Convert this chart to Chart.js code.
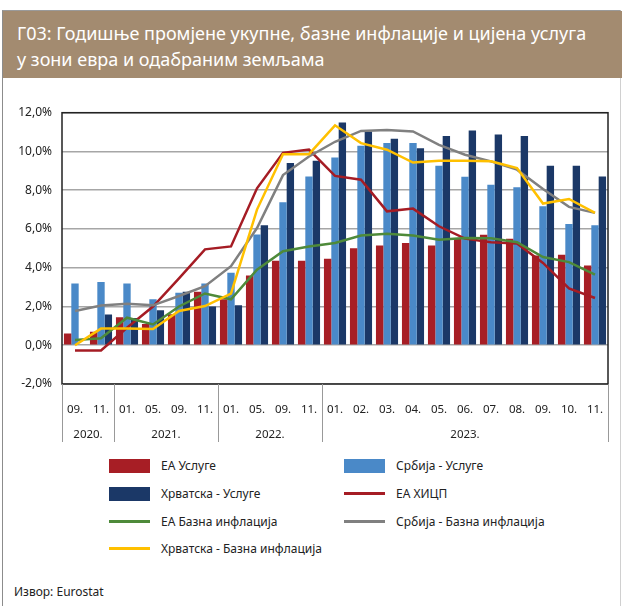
<!DOCTYPE html>
<html lang="sr">
<head>
    <meta charset="UTF-8">
    <title>Г03</title>
    <script src="https://cdn.jsdelivr.net/npm/chart.js"></script>
    <style>
        body {
            margin: 0;
            padding: 0;
            background: #fff;
            font-family: "Noto Sans", sans-serif;
        }
        #page {
            position: relative;
            width: 622px;
            height: 606px;
            overflow: hidden;
        }
        #frame {
            position: absolute;
            left: 2px;
            top: 10px;
            width: 617px;
            height: 600px;
            border-left: 1px solid #8c8c8c;
            border-top: 1px solid #9a9a9a;
            border-right: 1px solid #d0d0d0;
        }
        #title {
            position: absolute;
            left: 3px;
            top: 11px;
            width: 619px;
            height: 67px;
            background: #a38b70;
            color: #fff;
            font-size: 18px;
            line-height: 26px;
            padding: 0 0 0 14px;
            box-sizing: border-box;
        }
        #title div { white-space: nowrap; }
        #chartBox {
            position: absolute;
            left: 0;
            top: 80px;
            width: 622px;
            height: 370px;
        }
        #legend {
            position: absolute;
            left: 109px;
            top: 452px;
            display: grid;
            grid-template-columns: 235px 235px;
            grid-auto-rows: 27.7px;
            font-size: 12px;
            color: #222;
        }
        .item { display: flex; align-items: center; }
        .swatch { width: 41px; margin-right: 11px; }
        #source {
            position: absolute;
            left: 14px;
            top: 583px;
            font-size: 12px;
            color: #222;
        }
    </style>
</head>
<body>
<div id="page">
    <div id="frame"></div>
    <div id="title">
        <div style="margin-top:9px">Г03: Годишње промјене укупне, базне инфлације и цијена услуга</div>
        <div>у зони евра и одабраним земљама</div>
    </div>
    <div id="chartBox"><canvas id="chart" width="622" height="370"></canvas></div>
    <div id="legend"></div>
    <div id="source">Извор: Eurostat</div>
</div>
<script>
    const months = ['09.', '11.', '01.', '05.', '09.', '11.', '01.', '05.', '09.', '11.',
        '01.', '02.', '03.', '04.', '05.', '06.', '07.', '08.', '09.', '10.', '11.'];
    const years = ['2020.', '2020.', '2021.', '2021.', '2021.', '2021.', '2022.', '2022.', '2022.', '2022.',
        '2023.', '2023.', '2023.', '2023.', '2023.', '2023.', '2023.', '2023.', '2023.', '2023.', '2023.'];
    const yTicks = [-2, 0, 2, 4, 6, 8, 10, 12];

    const eaServices = [0.6, 0.7, 1.45, 1.1, 1.6, 2.76, 2.37, 3.6, 4.36, 4.36, 4.46, 5.0, 5.15, 5.28, 5.15, 5.5, 5.7, 5.5, 4.63, 4.67, 4.12];
    const srbServices = [3.19, 3.26, 3.19, 2.37, 2.71, 3.19, 3.74, 5.71, 7.38, 8.71, 9.69, 10.3, 10.43, 10.43, 9.26, 8.7, 8.28, 8.15, 7.17, 6.26, 6.19];
    const hrvServices = [0, 1.58, 1.4, 1.8, 2.76, 2.0, 2.07, 6.19, 9.4, 9.52, 11.49, 11.03, 10.65, 10.17, 10.8, 11.08, 10.87, 10.8, 9.26, 9.26, 8.71];
    const eaHicp = [-0.27, -0.27, 0.9, 2.0, 3.45, 4.95, 5.1, 8.1, 9.93, 10.1, 8.74, 8.54, 6.91, 7.05, 6.14, 5.5, 5.32, 5.25, 4.25, 2.93, 2.44];
    const eaCore = [0.27, 0.36, 1.42, 1.07, 2.0, 2.67, 2.37, 3.9, 4.85, 5.1, 5.28, 5.66, 5.75, 5.66, 5.45, 5.54, 5.52, 5.32, 4.55, 4.29, 3.65];
    const srbCore = [1.77, 2.05, 2.14, 2.06, 2.54, 3.05, 4.08, 6.05, 8.78, 9.74, 10.5, 11.06, 11.11, 11.03, 10.34, 9.83, 9.49, 9.06, 8.06, 7.14, 6.83];
    const hrvCore = [0.0, 0.86, 0.86, 0.84, 1.77, 2.02, 2.67, 7.0, 9.86, 9.86, 11.35, 10.43, 10.09, 9.43, 9.52, 9.52, 9.49, 9.14, 7.31, 7.55, 6.83];

    const fmt = v => v.toFixed(1).replace('.', ',') + '%';

    // frame round the plot, year row and its separators
    const axisExtras = {
        id: 'axisExtras',
        afterDraw(chart) {
            const ctx = chart.ctx;
            const a = chart.chartArea;
            const x = chart.scales.x;
            ctx.save();
            ctx.strokeStyle = '#222';
            ctx.lineWidth = 1.5;
            ctx.strokeRect(a.left, a.top, a.right - a.left, a.bottom - a.top);

            const edges = [x.left];
            for (let i = 1; i < years.length; i++) {
                if (years[i] !== years[i - 1]) {
                    edges.push((x.getPixelForValue(i - 1) + x.getPixelForValue(i)) / 2);
                }
            }
            edges.push(x.right);
            ctx.strokeStyle = '#999';
            ctx.lineWidth = 1;
            edges.forEach(e => {
                ctx.beginPath();
                ctx.moveTo(Math.round(e) + 0.5, a.bottom);
                ctx.lineTo(Math.round(e) + 0.5, a.bottom + 58);
                ctx.stroke();
            });

            const groups = [...new Set(years)];
            ctx.fillStyle = '#222';
            ctx.font = '11.5px "Noto Sans"';
            ctx.textAlign = 'center';
            ctx.textBaseline = 'middle';
            groups.forEach((g, k) => {
                ctx.fillText(g, (edges[k] + edges[k + 1]) / 2, a.bottom + 51);
            });
            ctx.restore();
        }
    };

    const bar = (label, data, color) => ({
        type: 'bar', label, data, backgroundColor: color, borderWidth: 0, order: 5
    });
    const line = (label, data, color, order) => ({
        type: 'line', label, data, borderColor: color, backgroundColor: color,
        borderWidth: 2.5, pointRadius: 0, tension: 0, fill: false, order
    });

    const chart = new Chart(document.getElementById('chart'), {
        data: {
            labels: months,
            datasets: [
                bar('ЕА Услуге', eaServices, '#a71e25'),
                bar('Србија - Услуге', srbServices, '#4a89c8'),
                bar('Хрватска - Услуге', hrvServices, '#1b3867'),
                line('ЕА ХИЦП', eaHicp, '#a51c24', 4),
                line('ЕА Базна инфлација', eaCore, '#4e8a3a', 3),
                line('Србија - Базна инфлација', srbCore, '#808080', 2),
                line('Хрватска - Базна инфлација', hrvCore, '#ffc000', 1)
            ]
        },
        options: {
            responsive: false,
            animation: false,
            layout: { padding: { top: 32.7, right: 14, left: 0, bottom: 0 } },
            datasets: { bar: { categoryPercentage: 0.85, barPercentage: 1.0 } },
            plugins: { legend: { display: false }, tooltip: { enabled: false } },
            scales: {
                x: {
                    grid: { display: false },
                    border: { display: false },
                    ticks: { color: '#222', font: { family: 'Noto Sans', size: 11.5 }, padding: 11, maxRotation: 0, autoSkip: false },
                    afterFit(scale) { scale.height = 66; }
                },
                y: {
                    min: -2,
                    max: 12,
                    afterBuildTicks(scale) { scale.ticks = yTicks.map(v => ({ value: v })); },
                    grid: { color: '#a6a6a6', lineWidth: 1.5, drawTicks: false },
                    border: { display: false },
                    ticks: { color: '#222', font: { family: 'Noto Sans', size: 12 }, padding: 10, callback: v => fmt(v) },
                    afterFit(scale) { scale.width = 62; }
                }
            }
        },
        plugins: [axisExtras]
    });

    // legend built from the chart's datasets, two per row
    const legend = document.getElementById('legend');
    chart.data.datasets.forEach(ds => {
        const item = document.createElement('div');
        item.className = 'item';
        const sw = document.createElement('span');
        sw.className = 'swatch';
        if (ds.type === 'bar') {
            sw.style.height = '14px';
            sw.style.background = ds.backgroundColor;
        } else {
            sw.style.height = '3px';
            sw.style.background = ds.borderColor;
        }
        const tx = document.createElement('span');
        tx.textContent = ds.label;
        item.appendChild(sw);
        item.appendChild(tx);
        legend.appendChild(item);
    });
</script>
</body>
</html>
